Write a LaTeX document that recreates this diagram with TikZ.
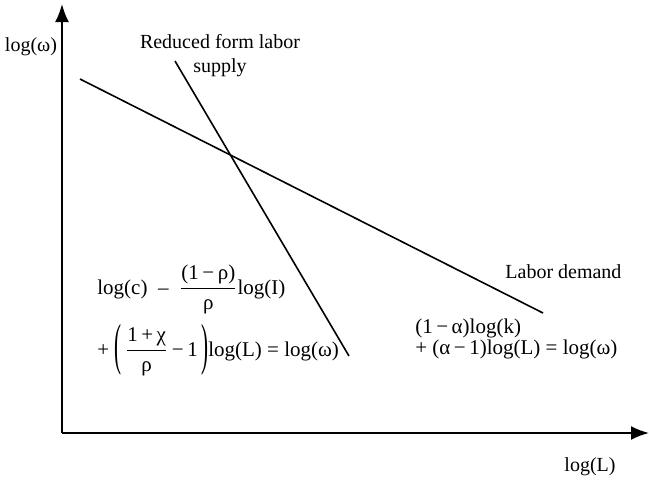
\documentclass[tikz,border=0pt]{standalone}
\usepackage{amsmath}
\usepackage{graphicx}
\usepackage{fontspec}
\setmainfont{Liberation Serif}
\usetikzlibrary{arrows.meta}
\newcommand{\tallparL}{\raisebox{-3.6pt}{\scalebox{1}[2.7]{(}}}
\newcommand{\tallparR}{\raisebox{-3.6pt}{\scalebox{1}[2.7]{)}}}
\begin{document}
\begin{tikzpicture}[x=0.5pt,y=-0.5pt,
  axis/.style={line width=1pt,-{Latex[length=9pt,width=7pt]}},
  curve/.style={line width=0.8pt},
  lbl/.style={font=\fontsize{10}{12}\selectfont,inner sep=0pt},
  eq/.style={font=\fontsize{10.5}{12}\selectfont,inner sep=0pt,anchor=base west}]
\useasboundingbox (0,0) rectangle (649,483);
\coordinate (O) at (62,433);
\coordinate (Ytip) at (62,4);
\coordinate (Xtip) at (649,433);
\draw[axis] (O) -- (Ytip);
\draw[axis] (O) -- (Xtip);
\coordinate (D1) at (80,79);
\coordinate (D2) at (543,313);
\coordinate (S1) at (175,61);
\coordinate (S2) at (349,356);
\draw[curve] (D1) -- (D2);
\draw[curve] (S1) -- (S2);
\node[lbl] (ylab) at (31,47) {log(ω)};
\node[lbl] (xlab) at (590,467) {log(L)};
\node[lbl,align=center] (slab) at (220,56) {Reduced form labor\\ supply};
\node[lbl,anchor=west] (dlab) at (505,272) {Labor demand};
\node[eq] (s1) at (97,294) {$\text{log(c)}\ \ \text{–}\ \ \dfrac{\text{(1\,−\,ρ)}}{\text{ρ}}\text{log(I)}$};
\node[eq] (s2) at (97,356) {+\ \tallparL\,$\dfrac{\text{1\,+\,χ}}{\text{ρ}}$\,−\,1\,\tallparR log(L) = log(ω)};
\node[eq] (d1) at (415,333) {(1\,−\,α)log(k)};
\node[eq] (d2) at (415,354) {+ (α\,−\,1)log(L) = log(ω)};
\end{tikzpicture}
\end{document}
